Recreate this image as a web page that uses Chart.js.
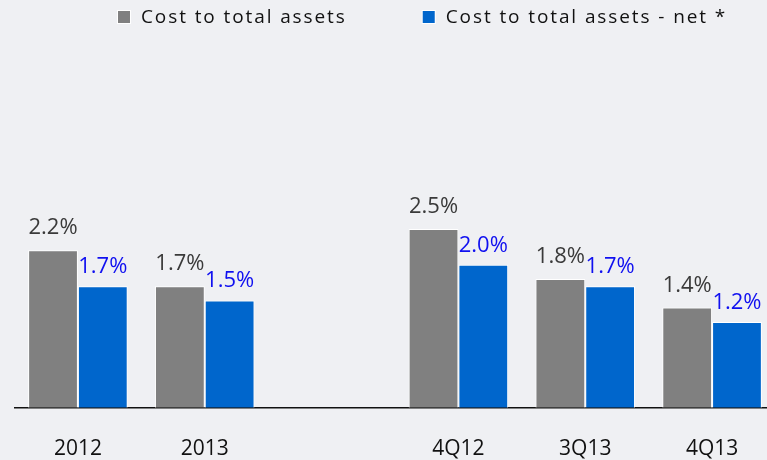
<!DOCTYPE html>
<html>
<head>
<meta charset="utf-8">
<script src="https://cdn.jsdelivr.net/npm/chart.js@4/dist/chart.umd.min.js"></script>
<style>
  html, body { margin: 0; padding: 0; overflow: hidden; width: 767px; height: 460px; }
  body { background: #eff0f3; }
  #wrap { position: relative; width: 781px; height: 460px; overflow: hidden; }
</style>
</head>
<body>
<div id="wrap"><canvas id="c" width="781" height="491"></canvas></div>
<script>
// ---- data ----
const categories = ['2012', '2013', '', '4Q12', '3Q13', '4Q13'];
const seriesNames = ['Cost to total assets', 'Cost to total assets - net *'];
const costToAssets    = [2.2, 1.7, null, 2.5, 1.8, 1.4];
const costToAssetsNet = [1.7, 1.5, null, 2.0, 1.7, 1.2];

// ---- styles ----
const GRAY = '#808080';
const BLUE = '#0066cc';
const LABEL_COLORS = ['#3a3a3a', '#1010f0'];
const LABEL_OFFSETS = [16, 13];
const FONT = '"Open Sans", "Noto Sans", sans-serif';

const valueLabels = {
  id: 'valueLabels',
  afterDatasetsDraw(chart) {
    const ctx = chart.ctx;
    ctx.save();
    ctx.font = '22px ' + FONT;
    ctx.textAlign = 'center';
    ctx.textBaseline = 'alphabetic';
    chart.data.datasets.forEach((ds, di) => {
      const meta = chart.getDatasetMeta(di);
      meta.data.forEach((bar, i) => {
        const v = ds.data[i];
        if (v == null) return;
        ctx.fillStyle = LABEL_COLORS[di];
        ctx.fillText(v.toFixed(1) + '%', bar.x, bar.y - LABEL_OFFSETS[di]);
      });
    });
    ctx.restore();
  }
};

const customLegend = {
  id: 'customLegend',
  afterDraw(chart) {
    const ctx = chart.ctx;
    ctx.save();
    ctx.font = '19px ' + FONT;
    try { ctx.letterSpacing = '1.9px'; } catch (e) {}
    ctx.textBaseline = 'middle';
    ctx.textAlign = 'left';
    let x = 118;
    const box = 12, gapText = 11, gapItem = 76, cy = 17;
    chart.data.datasets.forEach((ds) => {
      ctx.fillStyle = '#ffffff';
      ctx.fillRect(x - 1, cy - box / 2 - 1, box + 2, box + 2);
      ctx.fillStyle = ds.backgroundColor;
      ctx.fillRect(x, cy - box / 2, box, box);
      ctx.fillStyle = '#111111';
      ctx.fillText(ds.label, x + box + gapText, cy + 1);
      x += box + gapText + ctx.measureText(ds.label).width + gapItem;
    });
    ctx.restore();
  }
};

new Chart(document.getElementById('c'), {
  type: 'bar',
  data: {
    labels: categories,
    datasets: [
      { label: seriesNames[0], data: costToAssets, backgroundColor: GRAY, borderColor: '#ffffff', borderWidth: 1 },
      { label: seriesNames[1], data: costToAssetsNet, backgroundColor: BLUE, borderColor: '#ffffff', borderWidth: 1 }
    ]
  },
  options: {
    responsive: false,
    animation: false,
    devicePixelRatio: 1,
    layout: { padding: { top: 50, left: 14.5, right: 5.5, bottom: 0 } },
    datasets: { bar: { categoryPercentage: 0.785, barPercentage: 1.0 } },
    plugins: {
      legend: { display: false },
      tooltip: { enabled: false }
    },
    scales: {
      x: {
        grid: { display: false, drawTicks: false },
        border: { display: true, color: '#111111', width: 1.5 },
        ticks: {
          color: '#111111',
          font: { family: FONT, size: 21 },
          padding: 29,
          autoSkip: false,
          maxRotation: 0
        }
      },
      y: {
        display: false,
        min: 0,
        max: 5
      }
    }
  },
  plugins: [valueLabels, customLegend]
});
</script>
</body>
</html>
